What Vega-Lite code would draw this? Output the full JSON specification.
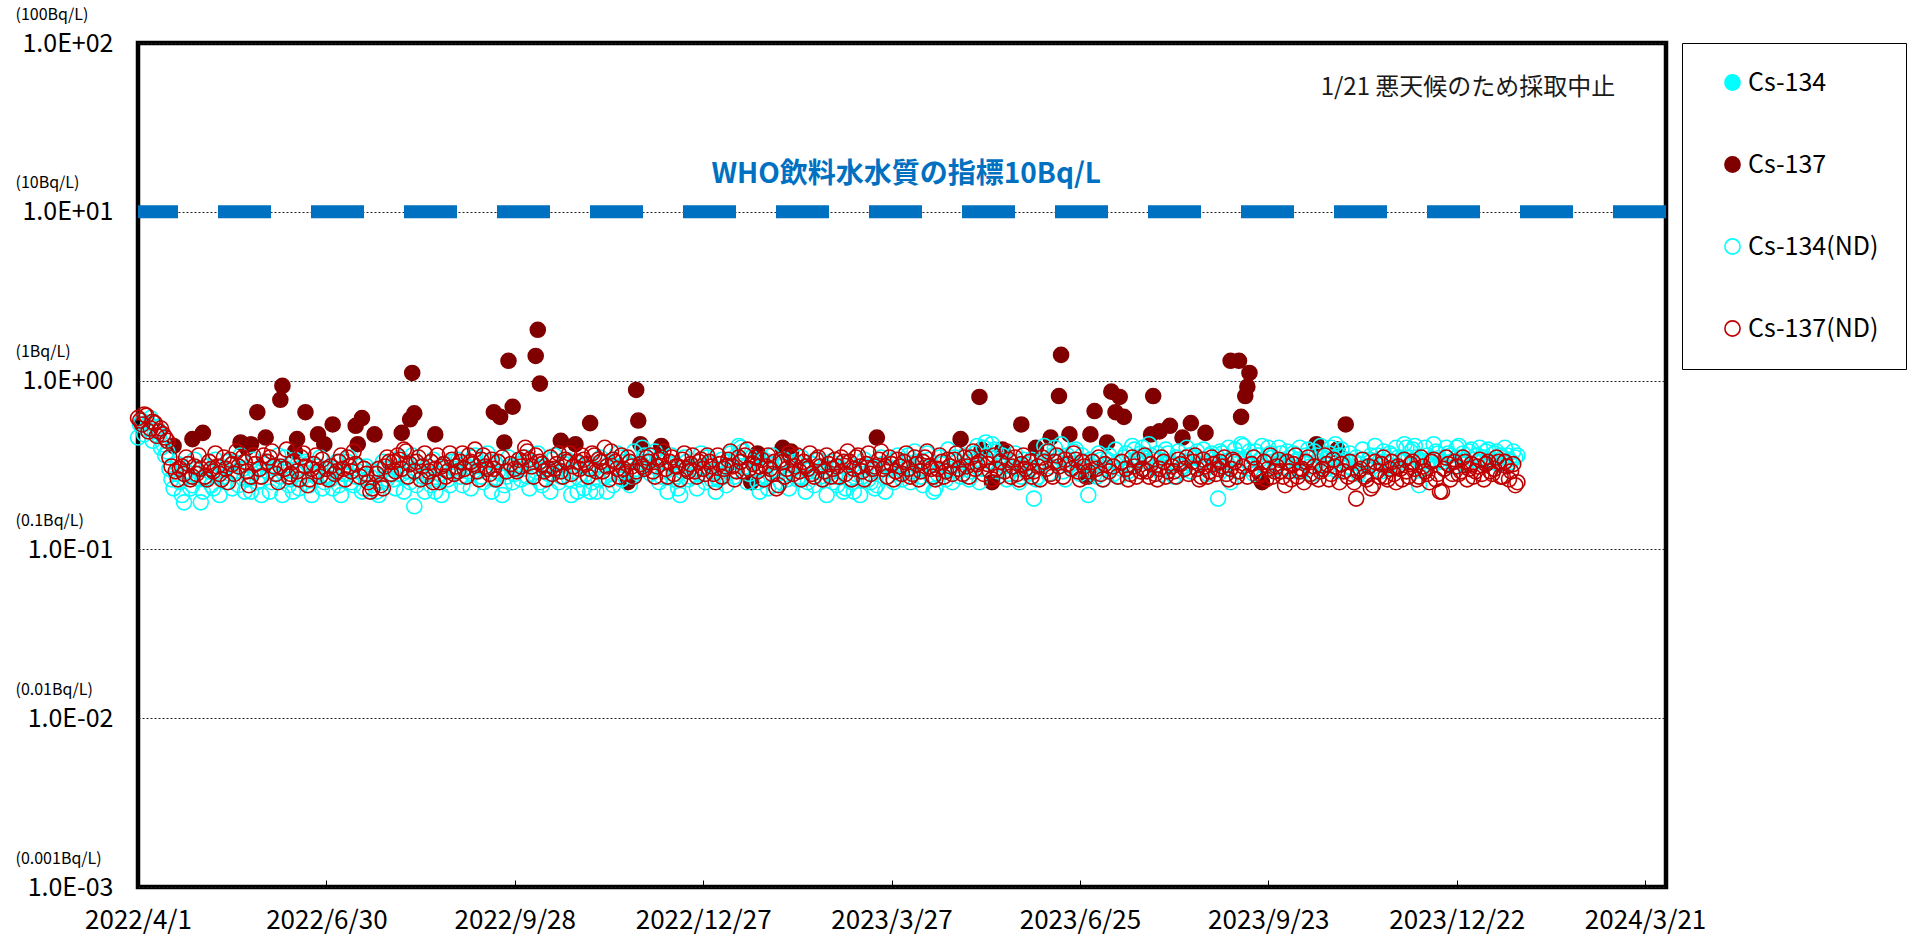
{
"$schema":"https://vega.github.io/schema/vega-lite/v6.json",
"autosize":{"type":"none"},
"width":1528,"height":844,
"padding":{"left":138,"top":43,"right":253,"bottom":49},
"background":"white",
"config":{"view":{"stroke":"black","strokeWidth":4.5},"font":"Noto Sans CJK JP"},
"layer":[
{
"data":{"format":{"parse":{"t":"utc:'%y%m%d'"}},"values":[
{"t":"220401","c":0.46,"d":0.6},{"t":"220403","c":0.58,"d":0.55},{"t":"220405","c":0.52,"d":0.62},{"t":"220407","c":0.6,"d":0.52},{"t":"220409","c":0.5,"d":0.56},{"t":"220411","c":0.47,"d":0.5},{"t":"220413","c":0.42,"d":0.48},{"t":"220415","c":0.38,"d":0.44},{"t":"220417","c":0.26,"d":0.31},{"t":"220419","c":0.28,"d":0.29},{"t":"220421","c":0.25,"d":0.3},{"t":"220423","c":0.19,"d":0.28},{"t":"220425","c":0.27,"d":0.32},{"t":"220427","c":0.24,"d":0.27},{"t":"220429","c":0.3,"d":0.28},
{"t":"220501","c":0.19,"d":0.3},{"t":"220503","c":0.26,"d":0.27},{"t":"220505","c":0.29,"d":0.33},{"t":"220507","c":0.23,"d":0.29},{"t":"220509","c":0.27,"d":0.31},{"t":"220511","c":0.31,"d":0.26},{"t":"220513","c":0.25,"d":0.3},{"t":"220515","c":0.28,"d":0.34},{"t":"220517","c":0.33,"d":0.28},{"t":"220519","c":0.24,"d":0.31},{"t":"220521","c":0.3,"d":0.35},{"t":"220523","c":0.26,"d":0.29},{"t":"220525","c":0.22,"d":0.27},{"t":"220527","c":0.29,"d":0.32},{"t":"220529","c":0.27,"d":0.3},{"t":"220531","c":0.32,"d":0.36},
{"t":"220602","c":0.29,"d":0.33},{"t":"220604","c":0.25,"d":0.38},{"t":"220606","c":0.31,"d":0.28},{"t":"220608","c":0.27,"d":0.31},{"t":"220610","c":0.35,"d":0.3},{"t":"220612","c":0.24,"d":0.27},{"t":"220614","c":0.22,"d":0.33},{"t":"220616","c":0.3,"d":0.29},{"t":"220618","c":0.26,"d":0.35},{"t":"220620","c":0.33,"d":0.31},{"t":"220622","c":0.24,"d":0.26},{"t":"220624","c":0.28,"d":0.32},{"t":"220626","c":0.31,"d":0.29},{"t":"220628","c":0.23,"d":0.34},{"t":"220630","c":0.27,"d":0.3},
{"t":"220702","c":0.26,"d":0.31},{"t":"220704","c":0.3,"d":0.28},{"t":"220706","c":0.24,"d":0.33},{"t":"220708","c":0.28,"d":0.3},{"t":"220710","c":0.33,"d":0.35},{"t":"220712","c":0.25,"d":0.29},{"t":"220714","c":0.27,"d":0.32},{"t":"220716","c":0.31,"d":0.27},{"t":"220718","c":0.23,"d":0.3},{"t":"220720","c":0.26,"d":0.25},{"t":"220722","c":0.29,"d":0.23},{"t":"220724","c":0.22,"d":0.28},{"t":"220726","c":0.25,"d":0.24},{"t":"220728","c":0.3,"d":0.31},{"t":"220730","c":0.28,"d":0.33},
{"t":"220801","c":0.26,"d":0.33},{"t":"220803","c":0.3,"d":0.36},{"t":"220805","c":0.28,"d":0.3},{"t":"220807","c":0.33,"d":0.38},{"t":"220809","c":0.25,"d":0.32},{"t":"220811","c":0.18,"d":0.29},{"t":"220813","c":0.29,"d":0.35},{"t":"220815","c":0.27,"d":0.31},{"t":"220817","c":0.31,"d":0.27},{"t":"220819","c":0.24,"d":0.33},{"t":"220821","c":0.22,"d":0.3},{"t":"220823","c":0.28,"d":0.25},{"t":"220825","c":0.3,"d":0.32},{"t":"220827","c":0.26,"d":0.29},{"t":"220829","c":0.33,"d":0.34},{"t":"220831","c":0.29,"d":0.31},
{"t":"220902","c":0.27,"d":0.33},{"t":"220904","c":0.32,"d":0.3},{"t":"220906","c":0.29,"d":0.36},{"t":"220908","c":0.35,"d":0.32},{"t":"220910","c":0.31,"d":0.29},{"t":"220912","c":0.27,"d":0.34},{"t":"220914","c":0.3,"d":0.31},{"t":"220916","c":0.33,"d":0.28},{"t":"220918","c":0.26,"d":0.3},{"t":"220920","c":0.29,"d":0.33},{"t":"220922","c":0.21,"d":0.35},{"t":"220924","c":0.27,"d":0.29},{"t":"220926","c":0.31,"d":0.32},{"t":"220928","c":0.28,"d":0.3},{"t":"220930","c":0.32,"d":0.34},
{"t":"221002","c":0.3,"d":0.35},{"t":"221004","c":0.27,"d":0.38},{"t":"221006","c":0.33,"d":0.31},{"t":"221008","c":0.29,"d":0.36},{"t":"221010","c":0.25,"d":0.33},{"t":"221012","c":0.31,"d":0.29},{"t":"221014","c":0.28,"d":0.3},{"t":"221016","c":0.34,"d":0.28},{"t":"221018","c":0.3,"d":0.32},{"t":"221020","c":0.27,"d":0.29},{"t":"221022","c":0.32,"d":0.34},{"t":"221024","c":0.26,"d":0.37},{"t":"221026","c":0.29,"d":0.31},{"t":"221028","c":0.22,"d":0.33},{"t":"221030","c":0.31,"d":0.36},
{"t":"221101","c":0.28,"d":0.32},{"t":"221103","c":0.22,"d":0.3},{"t":"221105","c":0.3,"d":0.36},{"t":"221107","c":0.26,"d":0.34},{"t":"221109","c":0.33,"d":0.29},{"t":"221111","c":0.22,"d":0.31},{"t":"221113","c":0.28,"d":0.38},{"t":"221115","c":0.31,"d":0.33},{"t":"221117","c":0.35,"d":0.27},{"t":"221119","c":0.29,"d":0.3},{"t":"221121","c":0.32,"d":0.35},{"t":"221123","c":0.27,"d":0.31},{"t":"221125","c":0.3,"d":0.29},{"t":"221127","c":0.33,"d":0.32},{"t":"221129","c":0.36,"d":0.3},
{"t":"221201","c":0.36,"d":0.33},{"t":"221203","c":0.31,"d":0.29},{"t":"221205","c":0.34,"d":0.31},{"t":"221207","c":0.27,"d":0.35},{"t":"221209","c":0.29,"d":0.3},{"t":"221211","c":0.32,"d":0.33},{"t":"221213","c":0.26,"d":0.28},{"t":"221215","c":0.23,"d":0.31},{"t":"221217","c":0.29,"d":0.34},{"t":"221219","c":0.33,"d":0.3},{"t":"221221","c":0.27,"d":0.32},{"t":"221223","c":0.3,"d":0.29},{"t":"221225","c":0.28,"d":0.33},{"t":"221227","c":0.31,"d":0.3},{"t":"221229","c":0.35,"d":0.36},{"t":"221231","c":0.26,"d":0.31},
{"t":"230102","c":0.22,"d":0.25},{"t":"230104","c":0.3,"d":0.32},{"t":"230106","c":0.27,"d":0.3},{"t":"230108","c":0.33,"d":0.34},{"t":"230110","c":0.29,"d":0.31},{"t":"230112","c":0.36,"d":0.29},{"t":"230114","c":0.4,"d":0.33},{"t":"230116","c":0.31,"d":0.36},{"t":"230118","c":0.28,"d":0.3},{"t":"230120","c":0.33,"d":0.32},{"t":"230122","c":0.25,"d":0.29},{"t":"230124","c":0.3,"d":0.34},{"t":"230126","c":0.27,"d":0.31},{"t":"230128","c":0.32,"d":0.3},{"t":"230130","c":0.24,"d":0.33},
{"t":"230201","c":0.28,"d":0.24},{"t":"230203","c":0.31,"d":0.33},{"t":"230205","c":0.26,"d":0.3},{"t":"230207","c":0.29,"d":0.35},{"t":"230209","c":0.33,"d":0.31},{"t":"230211","c":0.27,"d":0.29},{"t":"230213","c":0.3,"d":0.33},{"t":"230215","c":0.25,"d":0.3},{"t":"230217","c":0.32,"d":0.28},{"t":"230219","c":0.29,"d":0.34},{"t":"230221","c":0.27,"d":0.31},{"t":"230223","c":0.31,"d":0.29},{"t":"230225","c":0.28,"d":0.32},{"t":"230227","c":0.25,"d":0.3},
{"t":"230301","c":0.24,"d":0.31},{"t":"230303","c":0.29,"d":0.35},{"t":"230305","c":0.23,"d":0.28},{"t":"230307","c":0.26,"d":0.33},{"t":"230309","c":0.22,"d":0.3},{"t":"230311","c":0.3,"d":0.36},{"t":"230313","c":0.27,"d":0.29},{"t":"230315","c":0.31,"d":0.32},{"t":"230317","c":0.25,"d":0.28},{"t":"230319","c":0.23,"d":0.31},{"t":"230321","c":0.29,"d":0.34},{"t":"230323","c":0.32,"d":0.3},{"t":"230325","c":0.27,"d":0.27},{"t":"230327","c":0.3,"d":0.32},{"t":"230329","c":0.34,"d":0.29},{"t":"230331","c":0.28,"d":0.31},
{"t":"230402","c":0.31,"d":0.33},{"t":"230404","c":0.36,"d":0.3},{"t":"230406","c":0.29,"d":0.28},{"t":"230408","c":0.33,"d":0.32},{"t":"230410","c":0.27,"d":0.29},{"t":"230412","c":0.3,"d":0.35},{"t":"230414","c":0.34,"d":0.31},{"t":"230416","c":0.22,"d":0.27},{"t":"230418","c":0.28,"d":0.3},{"t":"230420","c":0.32,"d":0.33},{"t":"230422","c":0.26,"d":0.29},{"t":"230424","c":0.3,"d":0.31},{"t":"230426","c":0.35,"d":0.34},{"t":"230428","c":0.29,"d":0.3},{"t":"230430","c":0.31,"d":0.28},
{"t":"230502","c":0.33,"d":0.31},{"t":"230504","c":0.29,"d":0.35},{"t":"230506","c":0.37,"d":0.3},{"t":"230508","c":0.25,"d":0.33},{"t":"230510","c":0.4,"d":0.28},{"t":"230512","c":0.36,"d":0.32},{"t":"230514","c":0.42,"d":0.26},{"t":"230516","c":0.38,"d":0.3},{"t":"230518","c":0.34,"d":0.33},{"t":"230520","c":0.31,"d":0.29},{"t":"230522","c":0.28,"d":0.34},{"t":"230524","c":0.33,"d":0.31},{"t":"230526","c":0.3,"d":0.28},{"t":"230528","c":0.27,"d":0.32},{"t":"230530","c":0.32,"d":0.3},
{"t":"230601","c":0.3,"d":0.33},{"t":"230603","c":0.2,"d":0.29},{"t":"230605","c":0.27,"d":0.31},{"t":"230607","c":0.33,"d":0.35},{"t":"230609","c":0.38,"d":0.3},{"t":"230611","c":0.31,"d":0.28},{"t":"230613","c":0.4,"d":0.33},{"t":"230615","c":0.35,"d":0.31},{"t":"230617","c":0.29,"d":0.27},{"t":"230619","c":0.36,"d":0.32},{"t":"230621","c":0.32,"d":0.3},{"t":"230623","c":0.39,"d":0.34},{"t":"230625","c":0.28,"d":0.26},{"t":"230627","c":0.33,"d":0.31},{"t":"230629","c":0.21,"d":0.29},
{"t":"230701","c":0.31,"d":0.33},{"t":"230703","c":0.27,"d":0.3},{"t":"230705","c":0.34,"d":0.28},{"t":"230707","c":0.3,"d":0.32},{"t":"230709","c":0.36,"d":0.29},{"t":"230711","c":0.28,"d":0.31},{"t":"230713","c":0.33,"d":0.27},{"t":"230715","c":0.3,"d":0.33},{"t":"230717","c":0.37,"d":0.3},{"t":"230719","c":0.32,"d":0.28},{"t":"230721","c":0.39,"d":0.31},{"t":"230723","c":0.35,"d":0.34},{"t":"230725","c":0.4,"d":0.3},{"t":"230727","c":0.33,"d":0.29},{"t":"230729","c":0.36,"d":0.32},{"t":"230731","c":0.31,"d":0.28},
{"t":"230802","c":0.34,"d":0.3},{"t":"230804","c":0.3,"d":0.33},{"t":"230806","c":0.37,"d":0.29},{"t":"230808","c":0.32,"d":0.31},{"t":"230810","c":0.35,"d":0.27},{"t":"230812","c":0.29,"d":0.32},{"t":"230814","c":0.33,"d":0.3},{"t":"230816","c":0.36,"d":0.28},{"t":"230818","c":0.31,"d":0.33},{"t":"230820","c":0.38,"d":0.3},{"t":"230822","c":0.34,"d":0.27},{"t":"230824","c":0.3,"d":0.31},{"t":"230826","c":0.36,"d":0.29},{"t":"230828","c":0.32,"d":0.32},{"t":"230830","c":0.2,"d":0.3},
{"t":"230901","c":0.37,"d":0.31},{"t":"230903","c":0.33,"d":0.28},{"t":"230905","c":0.25,"d":0.3},{"t":"230907","c":0.39,"d":0.33},{"t":"230909","c":0.36,"d":0.29},{"t":"230911","c":0.41,"d":0.31},{"t":"230913","c":0.33,"d":0.27},{"t":"230915","c":0.3,"d":0.32},{"t":"230917","c":0.38,"d":0.3},{"t":"230919","c":0.34,"d":0.28},{"t":"230921","c":0.31,"d":0.33},{"t":"230923","c":0.4,"d":0.3},{"t":"230925","c":0.35,"d":0.27},{"t":"230927","c":0.32,"d":0.31},{"t":"230929","c":0.37,"d":0.29},
{"t":"231001","c":0.33,"d":0.24},{"t":"231003","c":0.3,"d":0.29},{"t":"231005","c":0.37,"d":0.32},{"t":"231007","c":0.34,"d":0.27},{"t":"231009","c":0.29,"d":0.3},{"t":"231011","c":0.36,"d":0.33},{"t":"231013","c":0.31,"d":0.28},{"t":"231015","c":0.38,"d":0.31},{"t":"231017","c":0.33,"d":0.26},{"t":"231019","c":0.35,"d":0.3},{"t":"231021","c":0.3,"d":0.32},{"t":"231023","c":0.4,"d":0.28},{"t":"231025","c":0.42,"d":0.31},{"t":"231027","c":0.36,"d":0.25},{"t":"231029","c":0.33,"d":0.29},{"t":"231031","c":0.31,"d":0.27},
{"t":"231102","c":0.3,"d":0.28},{"t":"231104","c":0.35,"d":0.2},{"t":"231106","c":0.32,"d":0.3},{"t":"231108","c":0.28,"d":0.27},{"t":"231110","c":0.34,"d":0.31},{"t":"231112","c":0.31,"d":0.24},{"t":"231114","c":0.36,"d":0.29},{"t":"231116","c":0.29,"d":0.32},{"t":"231118","c":0.33,"d":0.27},{"t":"231120","c":0.37,"d":0.3},{"t":"231122","c":0.31,"d":0.28},{"t":"231124","c":0.35,"d":0.31},{"t":"231126","c":0.33,"d":0.26},{"t":"231128","c":0.4,"d":0.29},{"t":"231130","c":0.38,"d":0.32},
{"t":"231202","c":0.41,"d":0.3},{"t":"231204","c":0.24,"d":0.27},{"t":"231206","c":0.33,"d":0.31},{"t":"231208","c":0.36,"d":0.28},{"t":"231210","c":0.31,"d":0.33},{"t":"231212","c":0.38,"d":0.26},{"t":"231214","c":0.34,"d":0.22},{"t":"231216","c":0.3,"d":0.3},{"t":"231218","c":0.37,"d":0.32},{"t":"231220","c":0.33,"d":0.28},{"t":"231222","c":0.4,"d":0.31},{"t":"231224","c":0.35,"d":0.29},{"t":"231226","c":0.32,"d":0.33},{"t":"231228","c":0.38,"d":0.3},{"t":"231230","c":0.34,"d":0.27},
{"t":"240101","c":0.36,"d":0.31},{"t":"240103","c":0.33,"d":0.28},{"t":"240105","c":0.38,"d":0.32},{"t":"240107","c":0.34,"d":0.29},{"t":"240109","c":0.37,"d":0.3},{"t":"240111","c":0.32,"d":0.33},{"t":"240113","c":0.35,"d":0.27},{"t":"240115","c":0.36,"d":0.31},{"t":"240117","c":0.33,"d":0.29},{"t":"240119","c":0.35,"d":0.24},
{"t":"220402","c":0.55,"d":0.58},{"t":"220404","c":0.48,"d":0.63},{"t":"220406","c":0.56,"d":0.5},{"t":"220408","c":0.44,"d":0.57},{"t":"220410","c":0.53,"d":0.47},{"t":"220412","c":0.4,"d":0.52},{"t":"220414","c":0.36,"d":0.46},{"t":"220416","c":0.3,"d":0.35},{"t":"220418","c":0.23},{"t":"220420","c":0.32,"d":0.26},{"t":"220422","c":0.21,"d":0.31},{"t":"220424","c":0.29,"d":0.35},{"t":"220426","c":0.23,"d":0.26},{"t":"220428","c":0.34,"d":0.31},{"t":"220430","c":0.26,"d":0.36},
{"t":"220502","c":0.22},{"t":"220504","c":0.31,"d":0.26},{"t":"220506","c":0.24,"d":0.3},{"t":"220508","c":0.34,"d":0.37},{"t":"220510","c":0.21,"d":0.28},{"t":"220512","c":0.27,"d":0.35},{"t":"220514","c":0.33,"d":0.25},{"t":"220516","c":0.23,"d":0.32},{"t":"220518","c":0.29,"d":0.38},{"t":"220520","c":0.36},{"t":"220522","c":0.22,"d":0.33},{"t":"220524","c":0.27,"d":0.24},{"t":"220526","c":0.34,"d":0.36},{"t":"220528","c":0.25},{"t":"220530","c":0.21,"d":0.27},
{"t":"220601","c":0.33},{"t":"220603","c":0.22,"d":0.35},{"t":"220605","c":0.28,"d":0.31},{"t":"220607","c":0.36,"d":0.25},{"t":"220609","c":0.21},{"t":"220611","c":0.3,"d":0.39},{"t":"220613","c":0.26,"d":0.28},{"t":"220615","c":0.34},{"t":"220617","c":0.23,"d":0.26},{"t":"220619","c":0.29,"d":0.37},{"t":"220621","c":0.32,"d":0.24},{"t":"220623","c":0.21,"d":0.3},{"t":"220625","c":0.27,"d":0.36},{"t":"220627","c":0.35,"d":0.27},{"t":"220629","c":0.25},
{"t":"220701","c":0.3,"d":0.26},{"t":"220703","c":0.23},{"t":"220705","c":0.33,"d":0.29},{"t":"220707","c":0.21,"d":0.36},{"t":"220709","c":0.28,"d":0.26},{"t":"220711","c":0.35,"d":0.31},{"t":"220713","c":0.24,"d":0.38},{"t":"220715","c":0.29},{"t":"220717","c":0.22},{"t":"220719","c":0.31,"d":0.28},{"t":"220721","c":0.27,"d":0.22},{"t":"220723","c":0.24},{"t":"220725","c":0.21,"d":0.3},{"t":"220727","c":0.33,"d":0.23},{"t":"220729","c":0.26,"d":0.35},{"t":"220731","c":0.3,"d":0.28},
{"t":"220802","c":0.23,"d":0.29},{"t":"220804","c":0.35,"d":0.34},{"t":"220806","c":0.22,"d":0.39},{"t":"220808","c":0.29,"d":0.27},{"t":"220810","c":0.36},{"t":"220812","c":0.24,"d":0.33},{"t":"220814","c":0.31,"d":0.26},{"t":"220816","c":0.22,"d":0.37},{"t":"220818","c":0.28,"d":0.29},{"t":"220820","c":0.34,"d":0.25},{"t":"220822","c":0.26,"d":0.36},{"t":"220824","c":0.21,"d":0.31},{"t":"220826","c":0.32,"d":0.27},{"t":"220828","c":0.24,"d":0.37},{"t":"220830","c":0.3,"d":0.28},
{"t":"220901","c":0.34,"d":0.29},{"t":"220903","c":0.24,"d":0.37},{"t":"220905","c":0.31,"d":0.27},{"t":"220907","c":0.23,"d":0.33},{"t":"220909","c":0.36,"d":0.39},{"t":"220911","c":0.29,"d":0.26},{"t":"220913","c":0.25,"d":0.36},{"t":"220915","c":0.37,"d":0.3},{"t":"220917","c":0.22,"d":0.34},{"t":"220919","c":0.32,"d":0.26},{"t":"220921","c":0.28},{"t":"220923","c":0.24},{"t":"220925","c":0.35},{"t":"220927","c":0.25},{"t":"220929","c":0.3,"d":0.29},
{"t":"221001","c":0.26,"d":0.31},{"t":"221003","c":0.35,"d":0.4},{"t":"221005","c":0.23,"d":0.34},{"t":"221007","c":0.31,"d":0.27},{"t":"221009","c":0.37},{"t":"221011","c":0.24,"d":0.32},{"t":"221013","c":0.3,"d":0.26},{"t":"221015","c":0.22,"d":0.35},{"t":"221017","c":0.36,"d":0.3},{"t":"221019","c":0.25,"d":0.37},{"t":"221021","c":0.29,"d":0.27},{"t":"221023","c":0.34,"d":0.33},{"t":"221025","c":0.21,"d":0.28},{"t":"221027","c":0.33},{"t":"221029","c":0.26,"d":0.3},{"t":"221031","c":0.23,"d":0.34},
{"t":"221102","c":0.31,"d":0.27},{"t":"221104","c":0.25,"d":0.37},{"t":"221106","c":0.22,"d":0.29},{"t":"221108","c":0.35,"d":0.33},{"t":"221110","c":0.27,"d":0.4},{"t":"221112","c":0.32,"d":0.26},{"t":"221114","c":0.24,"d":0.34},{"t":"221116","c":0.37,"d":0.3},{"t":"221118","c":0.26,"d":0.36},{"t":"221120","c":0.33,"d":0.28},{"t":"221122","c":0.24,"d":0.33},{"t":"221124","c":0.38,"d":0.27},{"t":"221126","c":0.29},{"t":"221128","c":0.4,"d":0.31},{"t":"221130","c":0.33,"d":0.35},
{"t":"221202","c":0.28,"d":0.36},{"t":"221204","c":0.38,"d":0.27},{"t":"221206","c":0.25,"d":0.34},{"t":"221208","c":0.33,"d":0.38},{"t":"221210","c":0.22,"d":0.27},{"t":"221212","c":0.36,"d":0.35},{"t":"221214","c":0.27,"d":0.31},{"t":"221216","c":0.21,"d":0.26},{"t":"221218","c":0.35,"d":0.37},{"t":"221220","c":0.26,"d":0.29},{"t":"221222","c":0.31,"d":0.36},{"t":"221224","c":0.23,"d":0.27},{"t":"221226","c":0.37,"d":0.34},{"t":"221228","c":0.25,"d":0.28},{"t":"221230","c":0.32,"d":0.33},
{"t":"230101","c":0.29,"d":0.28},{"t":"230103","c":0.26,"d":0.36},{"t":"230105","c":0.34,"d":0.27},{"t":"230107","c":0.24,"d":0.31},{"t":"230109","c":0.37,"d":0.38},{"t":"230111","c":0.27,"d":0.26},{"t":"230113","c":0.41,"d":0.35},{"t":"230115","c":0.38,"d":0.29},{"t":"230117","c":0.25,"d":0.39},{"t":"230119","c":0.35},{"t":"230121","c":0.3,"d":0.35},{"t":"230123","c":0.22,"d":0.31},{"t":"230125","c":0.34,"d":0.26},{"t":"230127","c":0.23,"d":0.36},{"t":"230129","c":0.36,"d":0.28},{"t":"230131","c":0.28,"d":0.23},
{"t":"230202","c":0.25,"d":0.34},{"t":"230204","c":0.34,"d":0.27},{"t":"230206","c":0.23,"d":0.37},{"t":"230208","c":0.32,"d":0.28},{"t":"230210","c":0.26,"d":0.36},{"t":"230212","c":0.35,"d":0.26},{"t":"230214","c":0.22,"d":0.31},{"t":"230216","c":0.3,"d":0.37},{"t":"230218","c":0.24,"d":0.27},{"t":"230220","c":0.34,"d":0.35},{"t":"230222","c":0.26,"d":0.26},{"t":"230224","c":0.21,"d":0.36},{"t":"230226","c":0.33,"d":0.27},{"t":"230228","c":0.27,"d":0.34},
{"t":"230302","c":0.31,"d":0.27},{"t":"230304","c":0.22,"d":0.33},{"t":"230306","c":0.33,"d":0.38},{"t":"230308","c":0.25,"d":0.26},{"t":"230310","c":0.28,"d":0.35},{"t":"230312","c":0.21,"d":0.31},{"t":"230314","c":0.34,"d":0.26},{"t":"230316","c":0.26,"d":0.37},{"t":"230318","c":0.31,"d":0.3},{"t":"230320","c":0.24},{"t":"230322","c":0.35,"d":0.38},{"t":"230324","c":0.22,"d":0.31},{"t":"230326","c":0.3,"d":0.35},{"t":"230328","c":0.25,"d":0.26},{"t":"230330","c":0.36,"d":0.34},
{"t":"230401","c":0.26,"d":0.28},{"t":"230403","c":0.33,"d":0.37},{"t":"230405","c":0.25,"d":0.27},{"t":"230407","c":0.38,"d":0.35},{"t":"230409","c":0.3,"d":0.26},{"t":"230411","c":0.24,"d":0.33},{"t":"230413","c":0.37,"d":0.38},{"t":"230415","c":0.27,"d":0.3},{"t":"230417","c":0.23,"d":0.26},{"t":"230419","c":0.35,"d":0.36},{"t":"230421","c":0.29,"d":0.27},{"t":"230423","c":0.39,"d":0.34},{"t":"230425","c":0.25,"d":0.28},{"t":"230427","c":0.33,"d":0.37},{"t":"230429","c":0.27},
{"t":"230501","c":0.36,"d":0.35},{"t":"230503","c":0.26,"d":0.27},{"t":"230505","c":0.33,"d":0.38},{"t":"230507","c":0.41,"d":0.32},{"t":"230509","c":0.3},{"t":"230511","c":0.43,"d":0.35},{"t":"230513","c":0.33,"d":0.29},{"t":"230515","c":0.39,"d":0.36},{"t":"230517","c":0.29,"d":0.27},{"t":"230519","c":0.36},{"t":"230521","c":0.26,"d":0.38},{"t":"230523","c":0.31,"d":0.27},{"t":"230525","c":0.37,"d":0.35},{"t":"230527","c":0.25,"d":0.26},{"t":"230529","c":0.34,"d":0.36},{"t":"230531","c":0.28,"d":0.29},
{"t":"230602","c":0.34,"d":0.27},{"t":"230604","c":0.26},{"t":"230606","c":0.31,"d":0.26},{"t":"230608","c":0.41,"d":0.33},{"t":"230610","c":0.28,"d":0.38},{"t":"230612","c":0.36,"d":0.27},{"t":"230614","c":0.33,"d":0.36},{"t":"230616","c":0.42},{"t":"230618","c":0.26,"d":0.34},{"t":"230620","c":0.34},{"t":"230622","c":0.38,"d":0.37},{"t":"230624","c":0.3,"d":0.29},{"t":"230626","c":0.36,"d":0.33},{"t":"230628","c":0.27,"d":0.27},{"t":"230630","c":0.34},
{"t":"230702","c":0.28},{"t":"230704","c":0.37,"d":0.35},{"t":"230706","c":0.26,"d":0.26},{"t":"230708","c":0.34},{"t":"230710","c":0.31},{"t":"230712","c":0.39},{"t":"230714","c":0.27},{"t":"230716","c":0.35},{"t":"230718","c":0.29,"d":0.26},{"t":"230720","c":0.41,"d":0.35},{"t":"230722","c":0.33,"d":0.27},{"t":"230724","c":0.37,"d":0.29},{"t":"230726","c":0.3,"d":0.36},{"t":"230728","c":0.42,"d":0.27},{"t":"230730","c":0.34},
{"t":"230801","c":0.37,"d":0.26},{"t":"230803","c":0.28,"d":0.35},{"t":"230805","c":0.39,"d":0.27},{"t":"230807","c":0.33},{"t":"230809","c":0.27,"d":0.29},{"t":"230811","c":0.38,"d":0.34},{"t":"230813","c":0.31},{"t":"230815","c":0.4,"d":0.35},{"t":"230817","c":0.29},{"t":"230819","c":0.35,"d":0.36},{"t":"230821","c":0.32,"d":0.26},{"t":"230823","c":0.39,"d":0.34},{"t":"230825","c":0.28,"d":0.27},{"t":"230827","c":0.37,"d":0.35},{"t":"230829","c":0.33,"d":0.28},{"t":"230831","c":0.38,"d":0.33},
{"t":"230902","c":0.31,"d":0.35},{"t":"230904","c":0.4,"d":0.26},{"t":"230906","c":0.35,"d":0.34},{"t":"230908","c":0.29,"d":0.27},{"t":"230910","c":0.42},{"t":"230912","c":0.34},{"t":"230914","c":0.38},{"t":"230916","c":0.28,"d":0.35},{"t":"230918","c":0.36,"d":0.27},{"t":"230920","c":0.41},{"t":"230922","c":0.33,"d":0.26},{"t":"230924","c":0.37,"d":0.36},{"t":"230926","c":0.3,"d":0.29},{"t":"230928","c":0.4,"d":0.34},{"t":"230930","c":0.34,"d":0.27},
{"t":"231002","c":0.38,"d":0.33},{"t":"231004","c":0.35,"d":0.26},{"t":"231006","c":0.29,"d":0.36},{"t":"231008","c":0.4,"d":0.29},{"t":"231010","c":0.33,"d":0.25},{"t":"231012","c":0.39,"d":0.35},{"t":"231014","c":0.28,"d":0.27},{"t":"231016","c":0.36},{"t":"231018","c":0.41,"d":0.29},{"t":"231020","c":0.32,"d":0.36},{"t":"231022","c":0.37,"d":0.26},{"t":"231024","c":0.35,"d":0.34},{"t":"231026","c":0.29},{"t":"231028","c":0.39,"d":0.32},{"t":"231030","c":0.34},
{"t":"231101","c":0.37,"d":0.33},{"t":"231103","c":0.33,"d":0.25},{"t":"231105","c":0.28,"d":0.29},{"t":"231107","c":0.39,"d":0.34},{"t":"231109","c":0.31,"d":0.26},{"t":"231111","c":0.36,"d":0.23},{"t":"231113","c":0.41,"d":0.33},{"t":"231115","c":0.33,"d":0.27},{"t":"231117","c":0.38,"d":0.35},{"t":"231119","c":0.3,"d":0.26},{"t":"231121","c":0.36,"d":0.33},{"t":"231123","c":0.4,"d":0.25},{"t":"231125","c":0.34,"d":0.3},{"t":"231127","c":0.42,"d":0.34},{"t":"231129","c":0.35,"d":0.27},
{"t":"231201","c":0.39,"d":0.33},{"t":"231203","c":0.35,"d":0.26},{"t":"231205","c":0.3,"d":0.35},{"t":"231207","c":0.4,"d":0.29},{"t":"231209","c":0.34,"d":0.25},{"t":"231211","c":0.42,"d":0.34},{"t":"231213","c":0.37,"d":0.28},{"t":"231215","c":0.33,"d":0.22},{"t":"231217","c":0.4,"d":0.35},{"t":"231219","c":0.36,"d":0.26},{"t":"231221","c":0.31,"d":0.33},{"t":"231223","c":0.41,"d":0.28},{"t":"231225","c":0.37,"d":0.35},{"t":"231227","c":0.33,"d":0.26},{"t":"231229","c":0.39,"d":0.32},{"t":"231231","c":0.36,"d":0.29},
{"t":"240102","c":0.4,"d":0.34},{"t":"240104","c":0.35,"d":0.26},{"t":"240106","c":0.39,"d":0.33},{"t":"240108","c":0.33,"d":0.28},{"t":"240110","c":0.38,"d":0.35},{"t":"240112","c":0.36,"d":0.27},{"t":"240114","c":0.4,"d":0.33},{"t":"240116","c":0.34,"d":0.26},{"t":"240118","c":0.38,"d":0.32},{"t":"240120","c":0.36,"d":0.25},
{"t":"220418","b":0.41},{"t":"220427","b":0.45},{"t":"220502","b":0.49},{"t":"220520","b":0.43},{"t":"220523","b":0.4},{"t":"220525","b":0.42},{"t":"220528","b":0.65},{"t":"220601","b":0.46},{"t":"220608","b":0.77},{"t":"220609","b":0.93},{"t":"220615","b":0.38},{"t":"220616","b":0.45},{"t":"220620","b":0.65},{"t":"220626","b":0.48},{"t":"220629","b":0.42},{"t":"220703","b":0.55},{"t":"220714","b":0.54},{"t":"220715","b":0.42},{"t":"220717","b":0.6},{"t":"220723","b":0.48},{"t":"220805","b":0.49},{"t":"220809","b":0.59},{"t":"220810","b":1.11},{"t":"220811","b":0.64},{"t":"220821","b":0.48},
{"t":"220918","b":0.65},{"t":"220921","b":0.61},{"t":"220923","b":0.43},{"t":"220925","b":1.31},{"t":"220927","b":0.7},{"t":"221008","b":1.4},{"t":"221009","b":2.0},{"t":"221010","b":0.96},{"t":"221020","b":0.44},{"t":"221027","b":0.42},{"t":"221103","b":0.56},{"t":"221121","b":0.25},{"t":"221125","b":0.88},{"t":"221126","b":0.58},{"t":"221127","b":0.42},{"t":"221207","b":0.41},{"t":"230119","b":0.25},{"t":"230122","b":0.37},{"t":"230203","b":0.4},{"t":"230207","b":0.38},
{"t":"230320","b":0.46},{"t":"230429","b":0.45},{"t":"230508","b":0.8},{"t":"230509","b":0.39},{"t":"230514","b":0.25},{"t":"230519","b":0.39},{"t":"230528","b":0.55},{"t":"230604","b":0.4},{"t":"230611","b":0.46},{"t":"230615","b":0.81},{"t":"230616","b":1.42},{"t":"230620","b":0.48},{"t":"230629","b":0.27},{"t":"230630","b":0.48},{"t":"230702","b":0.66},{"t":"230708","b":0.43},{"t":"230710","b":0.86},{"t":"230712","b":0.65},{"t":"230714","b":0.8},{"t":"230716","b":0.61},{"t":"230729","b":0.48},{"t":"230730","b":0.81},{"t":"230802","b":0.5},{"t":"230807","b":0.54},{"t":"230813","b":0.46},{"t":"230817","b":0.56},{"t":"230824","b":0.49},
{"t":"230905","b":1.31},{"t":"230909","b":1.31},{"t":"230910","b":0.61},{"t":"230912","b":0.81},{"t":"230913","b":0.92},{"t":"230914","b":1.11},{"t":"230920","b":0.25},{"t":"231016","b":0.42},{"t":"231026","b":0.39},{"t":"231030","b":0.55}
]},
"transform":[{"fold":["b","c","d"],"as":["s","v"]},{"filter":"isValid(datum.v)"}],
"mark":{"type":"point","shape":"circle","filled":true,"size":225,"strokeWidth":1.6,"opacity":1},
"encoding":{
"x":{"field":"t","type":"temporal","scale":{"type":"utc","domain":[{"year":2022,"month":4,"date":1,"utc":true},{"year":2024,"month":3,"date":31,"utc":true}]},
"axis":{"title":null,"values":[{"year":2022,"month":4,"date":1,"utc":true},{"year":2022,"month":6,"date":30,"utc":true},{"year":2022,"month":9,"date":28,"utc":true},{"year":2022,"month":12,"date":27,"utc":true},{"year":2023,"month":3,"date":27,"utc":true},{"year":2023,"month":6,"date":25,"utc":true},{"year":2023,"month":9,"date":23,"utc":true},{"year":2023,"month":12,"date":22,"utc":true},{"year":2024,"month":3,"date":21,"utc":true}],
"format":"%Y/%-m/%-d","labelFontSize":26,"labelColor":"black","labelFont":"Noto Sans CJK JP","labelPadding":27,"labelFlush":false,"labelOverlap":false,"labelBound":false,"domain":false,"grid":false,"ticks":true,"tickSize":-7,"tickColor":"black","tickWidth":1}},
"y":{"field":"v","type":"quantitative","scale":{"type":"log","domain":[0.001,100],"nice":false},
"axis":{"title":null,"orient":"left","values":[0.001,0.01,0.1,1,10,100],"labelExpr":"'1.0E' + (datum.value >= 1 ? '+' : '-') + '0' + abs(round(log(datum.value) / LN10))","labelFontSize":25,"labelColor":"black","labelFont":"Noto Sans CJK JP","labelPadding":25,"labelOverlap":false,"labelFlush":false,"labelBound":false,"domain":false,"ticks":false,"tickSize":0,"grid":true,"gridColor":"#222222","gridDash":[2,2],"gridWidth":1}},
"fill":{"field":"s","type":"nominal","scale":{"domain":["a","b","c","d"],"range":["#00FFFF","#800000","transparent","transparent"]},
"legend":{"title":null,"orient":"none","legendX":1544,"legendY":0,"direction":"vertical","padding":27,"rowPadding":56,"strokeColor":"black","fillColor":"white","labelFont":"Noto Sans CJK JP","labelFontSize":25,"labelColor":"black","symbolType":"circle","symbolSize":230,"symbolStrokeWidth":1.6,"labelOffset":3,"symbolOffset":11,"labelExpr":"datum.value == 'a' ? 'Cs-134' : datum.value == 'b' ? 'Cs-137' : datum.value == 'c' ? 'Cs-134(ND)' : 'Cs-137(ND)'"}},
"stroke":{"field":"s","type":"nominal","scale":{"domain":["a","b","c","d"],"range":["#00FFFF","#800000","#00FFFF","#C00000"]},
"legend":{"title":null,"orient":"none","legendX":1544,"legendY":0,"direction":"vertical","padding":27,"rowPadding":56,"strokeColor":"black","fillColor":"white","labelFont":"Noto Sans CJK JP","labelFontSize":25,"labelColor":"black","symbolType":"circle","symbolSize":230,"symbolStrokeWidth":1.6,"labelOffset":3,"symbolOffset":11,"labelExpr":"datum.value == 'a' ? 'Cs-134' : datum.value == 'b' ? 'Cs-137' : datum.value == 'c' ? 'Cs-134(ND)' : 'Cs-137(ND)'"}},
"order":{"field":"s","type":"nominal"}
}
},
{
"data":{"values":[{}]},
"mark":{"type":"rule","color":"#0070C0","strokeWidth":13,"strokeDash":[53,40],"strokeCap":"butt"},
"encoding":{"y":{"datum":10,"type":"quantitative","axis":{"title":null,"orient":"left","values":[0.001,0.01,0.1,1,10,100],"labelExpr":"'(' + datum.value + 'Bq/L)'","labelAlign":"left","labelBaseline":"middle","labelPadding":123,"labelOffset":-29,"labelFontSize":16,"labelColor":"black","labelFont":"Noto Sans CJK JP","labelOverlap":false,"labelFlush":false,"labelBound":false,"domain":false,"ticks":false,"tickSize":0,"grid":false}}}
},
{
"data":{"values":[{}]},
"mark":{"type":"text","text":"WHO飲料水水質の指標10Bq/L","font":"Noto Sans CJK JP","fontWeight":"bold","fontSize":28,"color":"#0070C0","align":"center","baseline":"middle","dy":-37},
"encoding":{"x":{"datum":{"year":2023,"month":4,"date":3,"utc":true},"type":"temporal"},"y":{"datum":10,"type":"quantitative","axis":null}}
},
{
"data":{"values":[{}]},
"mark":{"type":"text","text":"1/21 悪天候のため採取中止","font":"Noto Sans CJK JP","fontSize":24,"color":"#1a1a1a","align":"left","baseline":"middle"},
"encoding":{"x":{"datum":{"year":2023,"month":10,"date":18,"utc":true},"type":"temporal"},"y":{"datum":54,"type":"quantitative","axis":null}}
}
],
"resolve":{"axis":{"y":"independent"}}
}
